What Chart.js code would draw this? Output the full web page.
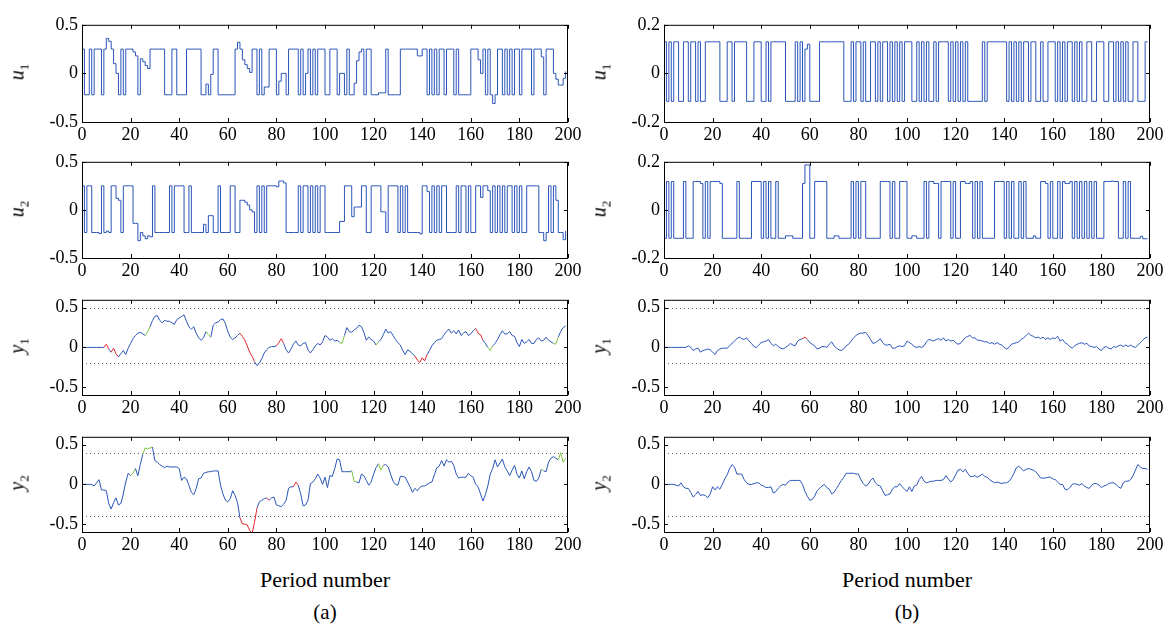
<!DOCTYPE html>
<html>
<head>
<meta charset="utf-8">
<script src="https://cdn.jsdelivr.net/npm/chart.js@4.4.1/dist/chart.umd.min.js"></script>
<style>
  body { margin: 0; background: #fff; width: 1169px; height: 628px; position: relative; overflow: hidden; font-family: "Liberation Serif", "Times New Roman", serif; color: #000; }
  canvas { position: absolute; }
  .ylab { position: absolute; font-style: italic; font-size: 20px; transform: translate(-50%, -50%) rotate(-90deg); white-space: nowrap; }
  .ylab sub { font-style: normal; font-size: 13px; }
  .cap { position: absolute; transform: translateX(-50%); white-space: nowrap; }
</style>
</head>
<body>
<script>
// x axis
const xTicks = [0, 20, 40, 60, 80, 100, 120, 140, 160, 180, 200];

// (a) inputs / outputs
const u1a = [
  .25,-.22,-.22,.25,-.22,.25,.25,.25,-.22,.25,
  .36,.33,.25,.1,0,-.22,.25,-.22,.25,.25,
  .25,.22,.18,-.22,.15,.12,.08,.05,.25,.25,
  .25,.25,.25,.25,-.22,-.22,-.22,.25,.25,-.22,
  -.22,-.22,-.22,.25,.25,.25,.25,.25,.25,-.22,
  -.22,-.11,-.22,-.01,.25,.25,-.22,-.22,-.22,-.22,
  -.22,-.22,-.22,.25,.32,.25,.14,.09,.05,.01,
  .25,.25,-.22,.25,-.22,-.14,-.14,.25,.25,.25,
  -.22,-.08,0,0,-.22,.25,.25,.25,.25,-.22,
  .25,-.22,0,.25,-.22,.25,-.22,.25,.25,.25,
  -.22,-.22,.25,.25,.25,-.22,0,0,-.22,.25,
  -.22,-.22,-.1,.13,.22,.25,-.22,.25,.25,-.22,
  -.22,-.22,-.2,-.2,-.2,.25,-.22,-.22,-.22,-.22,
  -.22,.25,.25,.25,.25,.25,.25,.25,.18,.18,
  .25,.25,-.22,.25,-.22,.25,-.22,.25,.25,-.22,
  .25,.25,.25,-.22,.25,-.22,-.22,-.22,-.22,-.22,
  .25,.25,.25,.14,0,.25,-.22,.25,-.22,-.31,
  -.22,.25,.25,-.22,.25,-.22,.25,-.22,.25,.25,
  -.22,.25,.25,.25,.25,-.22,.25,.25,.25,.17,
  -.22,.25,.25,.25,0,-.06,-.12,-.12,-.05,.02
];
const u2a = [
  .25,-.235,.25,.25,-.235,-.235,-.235,-.245,.25,-.235,
  -.22,-.235,.25,.25,.12,.1,-.235,.25,.25,.25,
  .25,-.14,-.14,-.32,-.235,-.27,-.3,-.27,-.28,.25,
  -.235,-.235,-.235,-.235,-.235,-.235,.25,-.235,.25,.25,
  .25,.25,-.235,-.235,.25,-.235,-.235,-.235,-.235,-.235,
  -.15,-.235,-.06,-.06,-.235,-.235,.25,-.235,-.235,-.235,
  -.235,.25,.25,-.235,-.235,.1,.1,.08,.05,0,
  -.02,-.235,.25,-.235,.25,-.235,.25,.25,.25,.25,
  .24,.3,.3,.28,-.235,-.235,-.235,-.235,-.235,.25,
  -.235,.25,.25,-.235,.25,-.235,.25,-.235,.25,.25,
  -.235,-.235,-.235,-.235,-.235,-.235,-.12,-.12,.25,.25,
  .25,-.07,.03,.03,.03,.25,.25,-.235,-.235,.25,
  .25,.25,.25,-.02,-.02,-.235,.25,.25,.25,.25,
  -.235,.25,-.235,.25,-.235,-.235,-.235,-.235,-.235,-.25,
  .25,.25,.19,-.235,.25,-.235,.25,-.235,.25,.25,
  -.235,-.235,-.235,-.235,.25,-.235,.25,.25,-.235,.25,
  -.235,-.235,.25,.25,.13,.25,.25,.2,-.235,.25,
  -.235,.25,-.235,.25,-.235,.25,.25,-.235,.25,-.235,
  .25,-.235,-.235,.25,.25,.25,.25,.25,-.235,-.235,
  -.32,-.235,.25,-.235,.25,.1,-.235,-.235,-.31,-.22
];
const y1a = [
  0,0,0,0,0,0,0,0,0,0,
  .04,-.02,-.06,-.01,-.08,-.12,-.08,-.04,-.09,-.01,
  .05,.11,.15,.18,.19,.17,.15,.2,.26,.34,
  .39,.4,.34,.31,.34,.33,.33,.31,.29,.35,
  .37,.39,.41,.33,.26,.23,.26,.18,.12,.09,
  .12,.2,.16,.13,.28,.31,.32,.35,.36,.3,
  .2,.13,.1,.12,.15,.18,.14,.09,.02,-.06,
  -.11,-.18,-.23,-.2,-.14,-.07,-.03,0,.01,.01,
  .02,.06,.11,.05,-.03,-.07,-.02,.04,.08,.03,
  .02,.05,.06,-.03,-.07,-.03,.02,.05,.03,.07,
  .15,.13,.09,.11,.08,.09,.06,.05,.15,.25,
  .2,.19,.22,.24,.28,.26,.19,.09,.13,.1,
  .08,.03,.07,.1,.16,.23,.18,.2,.15,.1,
  .06,.03,-.04,-.09,-.03,-.05,-.08,-.11,-.16,-.19,
  -.13,-.17,-.09,-.04,.02,.06,.09,.1,.11,.16,
  .2,.23,.18,.21,.17,.22,.15,.18,.2,.15,
  .17,.21,.24,.18,.16,.09,.05,0,-.04,.02,
  .05,.1,.16,.21,.17,.17,.2,.15,.14,.06,
  .01,.1,.05,.07,.1,.05,.05,.1,.12,.08,
  .09,.13,.09,.07,.05,.04,.13,.2,.25,.27
];
const y2a = [
  0,0,0,0,0,-.02,.02,.06,-.07,-.07,
  -.08,-.24,-.31,-.23,-.17,-.26,-.24,-.12,.03,.14,
  .11,.14,.2,.11,.25,.38,.46,.45,.46,.47,
  .3,.28,.25,.23,.21,.23,.22,.22,.22,.22,
  .2,.05,.09,.07,-.01,-.1,-.13,-.05,.07,.08,
  .14,.15,.16,.16,.17,.17,.17,-.01,-.12,-.2,
  -.22,-.18,-.08,-.14,-.23,-.42,-.5,-.5,-.51,-.58,
  -.62,-.48,-.3,-.22,-.2,-.18,-.17,-.2,-.17,-.16,
  -.26,-.27,-.28,-.25,-.2,-.05,-.03,-.03,.03,-.01,
  -.12,-.27,-.26,-.2,.01,.03,.07,.13,.08,0,
  .09,-.04,.11,.1,.2,.32,.31,.16,.16,.16,
  .16,.17,.04,.03,.02,.13,.11,.05,-.01,.03,
  .13,.21,.26,.18,.24,.25,.22,.13,.04,0,
  -.01,.1,.1,.09,.03,-.03,-.1,-.05,-.08,-.04,
  -.02,-.02,0,.02,.03,.12,.21,.23,.3,.23,
  .31,.28,.29,.24,.13,.08,.09,.09,.09,.14,
  .11,.09,0,-.03,-.12,-.21,-.13,-.02,.13,.2,
  .31,.22,.27,.32,.22,.17,.11,.18,.24,.13,
  .08,.17,.07,.16,.22,.16,.05,.04,.08,.19,
  .17,.16,.28,.33,.35,.33,.31,.4,.28,.33
];
// periods where the (a) outputs are drawn red / green: [from, to)
const y1aRed = [[9, 11], [12, 15], [65, 71], [80, 83], [137, 142], [162, 165]];
const y1aGreen = [[26, 28], [51, 53], [106, 108], [121, 122], [167, 169], [194, 196]];
const y2aRed = [[65, 72], [76, 77], [87, 89]];
const y2aGreen = [[20, 22], [25, 29], [111, 113], [122, 124], [189, 190], [196, 199]];

// (b) inputs / outputs
const u1b = [
  .13,-.115,.13,-.115,.13,.13,-.115,-.115,.13,.13,
  -.115,.13,.13,-.115,.13,-.115,-.115,.13,.13,.13,
  .13,.13,.13,-.115,-.115,-.115,.13,.13,-.115,.13,
  .13,.13,.13,.13,-.115,-.115,-.115,.13,.13,.13,
  -.115,-.115,.13,-.115,.13,.13,.13,.13,.13,.13,
  -.115,-.115,-.115,-.115,.13,-.115,.13,-.115,.1,.12,
  -.115,-.115,-.115,-.115,.13,.13,.13,.13,.13,.13,
  .13,.13,.13,.13,-.115,-.115,-.115,.13,-.115,.13,
  .13,-.115,.13,-.115,-.115,.13,.13,-.115,.13,-.115,
  .13,.13,-.115,.13,-.115,.13,-.115,.13,-.115,.13,
  .13,.13,-.115,-.115,.13,-.115,.13,-.115,.13,-.115,
  -.115,.13,-.115,.13,.13,.13,.13,-.115,.13,-.115,
  .13,-.115,.13,-.115,.13,-.115,-.115,-.115,-.115,-.115,
  -.115,.13,-.115,.13,.13,.13,.13,.13,.13,.13,
  .13,-.115,.13,-.115,.13,-.115,.13,-.115,.13,.13,
  -.115,.13,.13,-.115,-.115,.13,-.115,-.115,.13,.13,
  .13,-.115,.13,-.115,.13,-.115,.13,.13,-.115,.13,
  -.115,.13,-.115,-.115,.13,.13,-.115,-.115,.13,.13,
  .13,-.115,-.115,.13,.13,-.115,.13,-.115,.13,-.115,
  .13,-.115,-.115,.13,.13,-.115,-.115,-.115,.13,.13
];
const u2b = [
  -.118,.118,-.118,.118,-.118,-.118,-.118,-.118,.118,-.118,
  -.118,-.118,.118,.118,.118,.11,-.118,.118,-.118,.118,
  .118,.118,.118,.11,-.118,-.118,-.118,-.118,-.118,-.118,
  .118,-.118,-.118,-.118,-.118,-.118,.118,.118,.118,.118,
  -.118,.118,-.118,.118,-.118,-.118,.118,-.118,-.118,-.118,
  -.108,-.108,-.108,-.118,-.118,-.118,-.118,.11,.187,.187,
  -.118,-.118,.118,.118,.118,.118,.118,-.118,-.118,-.118,
  -.108,-.108,-.118,-.118,-.118,-.118,-.118,.118,-.118,.118,
  -.118,.118,.118,-.118,-.118,-.118,-.118,-.118,-.118,.118,
  .118,.118,.118,-.118,.118,-.118,-.118,.118,.118,.118,
  -.118,-.118,-.108,-.108,-.118,-.118,-.118,.118,-.118,.118,
  .118,.11,.11,-.118,.118,.118,.118,.118,-.118,.118,
  -.118,-.118,.118,.118,.11,.11,.118,-.118,.118,-.118,
  .118,-.118,-.118,-.118,-.118,-.118,.118,.118,.118,.118,
  -.118,.118,-.118,.118,-.118,-.118,.118,-.118,.118,-.118,
  -.118,-.118,-.108,-.118,-.118,.118,.118,.11,-.118,.118,
  -.118,-.118,.118,-.118,.118,.11,.11,.118,-.118,.118,
  -.118,.118,-.118,.118,-.118,.118,-.118,.118,-.118,-.118,
  -.118,.118,.118,.118,.12,.118,.118,-.118,-.118,.118,
  -.118,.118,-.118,-.118,-.118,-.118,-.11,-.12,-.12,-.12
];
const y1b = [
  0,0,0,0,0,0,0,0,0,0,
  .02,0,-.04,-.02,-.01,-.06,-.04,-.03,-.02,-.03,
  -.06,-.09,-.04,-.02,-.01,-.01,-.01,.02,.05,.08,
  .11,.13,.11,.1,.12,.08,.05,.01,0,.03,
  .06,.07,.08,.1,.05,.02,.04,.01,-.01,-.02,
  0,.02,.05,.03,.02,.08,.1,.11,.13,.1,
  .06,.04,.02,-.02,-.01,.01,.01,0,.04,.07,
  .02,-.01,-.03,-.04,-.02,.02,.04,.08,.12,.15,
  .17,.18,.18,.19,.15,.1,.05,.06,.08,.11,
  .06,.03,.03,.04,-.01,-.01,.01,.02,.01,.02,
  .08,.06,.04,.01,0,.01,0,.02,.07,.1,
  .09,.08,.1,.11,.09,.12,.08,.1,.08,.09,
  .06,.04,.05,.09,.12,.14,.15,.12,.12,.09,
  .09,.08,.07,.07,.05,.06,.04,.06,.04,.03,
  0,-.02,0,.04,.05,.06,.07,.1,.12,.15,
  .18,.15,.14,.12,.13,.11,.13,.1,.12,.1,
  .12,.11,.14,.08,.1,.06,.04,.01,-.01,.02,
  .04,.05,.06,.04,.05,.02,.01,0,.01,-.02,
  -.04,0,.01,-.01,-.02,.01,0,.02,.03,.01,
  .03,.01,.03,.01,0,.03,.06,.09,.12,.13
];
const y2b = [
  0,0,0,0,0,-.01,-.02,.02,-.03,-.05,
  -.05,-.1,-.16,-.13,-.09,-.14,-.13,-.14,-.17,-.12,
  -.03,-.07,-.03,-.06,0,.07,.12,.2,.25,.22,
  .13,.13,.13,.06,.02,0,0,.01,.02,.02,
  -.01,-.02,-.04,-.04,-.03,-.11,-.09,-.05,-.02,0,
  -.01,.03,.05,.05,.05,.05,.05,0,-.09,-.15,
  -.2,-.19,-.15,-.08,-.05,-.02,0,-.04,-.06,-.12,
  -.1,-.05,0,.05,.09,.14,.14,.14,.14,.13,
  .13,.06,.01,-.02,0,.05,.08,.02,-.01,-.02,
  -.08,-.14,-.13,-.12,-.06,-.03,-.03,.01,-.03,-.06,
  -.09,-.03,-.09,-.02,-.01,.06,.1,.04,.02,.03,
  .04,.04,.05,.05,.05,.06,.11,.07,.03,.06,
  .12,.18,.19,.16,.19,.14,.1,.1,.11,.09,
  .11,.13,.1,.09,.06,.04,.02,.03,.02,.01,
  .02,.02,.04,.08,.14,.21,.23,.2,.17,.19,
  .2,.19,.18,.16,.12,.08,.08,.08,.09,.09,
  .07,.06,.03,0,0,-.06,-.07,-.04,0,.01,
  0,-.01,.01,-.02,-.04,-.05,-.01,.01,.01,-.01,
  -.04,-.02,-.01,.01,.02,.02,0,-.03,-.05,.02,
  .04,.04,.06,.11,.18,.25,.22,.2,.2,.19
];
const y1bRed = [[57, 59]];

// tick labels / bounds
const uaTicks = [-0.5, 0, 0.5];
const ubTicks = [-0.2, 0, 0.2];
const yTicks = [-0.5, 0, 0.5];
const y1Bounds = [-0.2, 0.5];
const y2Bounds = [-0.4, 0.4];

const BLUE = '#2a55b8', RED = '#e8262c', GREEN = '#7cc242';
const FONT = { family: 'Liberation Serif', size: 18 };
const colLeft = [82, 664];
const plotW = 486;
const rows = [
  { top: 22, h: 100 },
  { top: 159, h: 99 },
  { top: 297, h: 98 },
  { top: 434, h: 98 }
];

const frame = {
  id: 'frame',
  beforeDatasetsDraw(chart, args, opts) {
    if (!opts.bounds) return;
    const { ctx, chartArea: a, scales: { y } } = chart;
    ctx.save();
    ctx.strokeStyle = '#666';
    ctx.lineWidth = 1;
    ctx.setLineDash([1, 3]);
    opts.bounds.forEach(b => {
      const py = Math.round(y.getPixelForValue(b)) + 0.5;
      ctx.beginPath(); ctx.moveTo(a.left, py); ctx.lineTo(a.right, py); ctx.stroke();
    });
    ctx.restore();
  },
  afterDraw(chart) {
    const { ctx, chartArea: a, scales: { x, y } } = chart;
    const t = 4;
    ctx.save();
    ctx.strokeStyle = '#000';
    ctx.lineWidth = 1;
    ctx.beginPath();
    x.ticks.forEach(tk => {
      const px = Math.round(x.getPixelForValue(tk.value)) + 0.5;
      ctx.moveTo(px, a.bottom); ctx.lineTo(px, a.bottom - t);
      ctx.moveTo(px, a.top); ctx.lineTo(px, a.top + t);
    });
    y.ticks.forEach(tk => {
      const py = Math.round(y.getPixelForValue(tk.value)) + 0.5;
      ctx.moveTo(a.left, py); ctx.lineTo(a.left + t, py);
      ctx.moveTo(a.right, py); ctx.lineTo(a.right - t, py);
    });
    ctx.stroke();
    ctx.strokeRect(a.left + 0.5, a.top + 0.5, a.right - a.left - 1, a.bottom - a.top);
    ctx.restore();
  }
};

function segColor(red, green) {
  return c => {
    const i = c.p0DataIndex;
    if (red.some(r => i >= r[0] && i < r[1])) return RED;
    if (green.some(r => i >= r[0] && i < r[1])) return GREEN;
    return BLUE;
  };
}

function addPanel(col, row, values, opt) {
  const left = colLeft[col], r = rows[row];
  const cv = document.createElement('canvas');
  cv.width = plotW + 76;
  cv.height = r.h + 44;
  cv.style.left = (left - 60) + 'px';
  cv.style.top = (r.top - 12) + 'px';
  document.body.appendChild(cv);

  const ds = {
    data: values.map((v, i) => ({ x: i, y: v })),
    borderColor: BLUE,
    borderWidth: 1,
    pointRadius: 0,
    fill: false,
    stepped: !!opt.stepped,
    tension: 0
  };
  if (opt.red) ds.segment = { borderColor: segColor(opt.red, opt.green || []) };

  new Chart(cv, {
    type: 'line',
    data: { datasets: [ds] },
    options: {
      responsive: false,
      animation: false,
      events: [],
      layout: { padding: { left: 0, top: 12, right: 16, bottom: 0 } },
      plugins: { legend: { display: false }, tooltip: { enabled: false }, frame: { bounds: opt.bounds } },
      scales: {
        x: {
          type: 'linear', min: 0, max: 200,
          grid: { display: false, drawTicks: false },
          border: { display: false },
          afterBuildTicks: s => { s.ticks = xTicks.map(v => ({ value: v })); },
          afterFit: s => { s.height = 32; },
          ticks: { font: FONT, color: '#000', padding: 2, maxRotation: 0, autoSkip: false, callback: v => String(v) }
        },
        y: {
          min: opt.min, max: opt.max,
          grid: { display: false, drawTicks: false },
          border: { display: false },
          afterBuildTicks: s => { s.ticks = opt.ticks.map(v => ({ value: v })); },
          afterFit: s => { s.width = 60; },
          ticks: { font: FONT, color: '#000', padding: 4, callback: v => String(v) }
        }
      }
    },
    plugins: [frame]
  });

  const lab = document.createElement('div');
  lab.className = 'ylab';
  lab.innerHTML = opt.label;
  lab.style.left = (left - 63) + 'px';
  lab.style.top = (r.top + r.h / 2) + 'px';
  document.body.appendChild(lab);
}

addPanel(0, 0, u1a, { stepped: true, min: -0.5, max: 0.5, ticks: uaTicks, label: 'u<sub>1</sub>' });
addPanel(0, 1, u2a, { stepped: true, min: -0.5, max: 0.5, ticks: uaTicks, label: 'u<sub>2</sub>' });
addPanel(0, 2, y1a, { min: -0.6, max: 0.6, ticks: yTicks, bounds: y1Bounds, red: y1aRed, green: y1aGreen, label: 'y<sub>1</sub>' });
addPanel(0, 3, y2a, { min: -0.6, max: 0.6, ticks: yTicks, bounds: y2Bounds, red: y2aRed, green: y2aGreen, label: 'y<sub>2</sub>' });
addPanel(1, 0, u1b, { stepped: true, min: -0.2, max: 0.2, ticks: ubTicks, label: 'u<sub>1</sub>' });
addPanel(1, 1, u2b, { stepped: true, min: -0.2, max: 0.2, ticks: ubTicks, label: 'u<sub>2</sub>' });
addPanel(1, 2, y1b, { min: -0.6, max: 0.6, ticks: yTicks, bounds: y1Bounds, red: y1bRed, label: 'y<sub>1</sub>' });
addPanel(1, 3, y2b, { min: -0.6, max: 0.6, ticks: yTicks, bounds: y2Bounds, label: 'y<sub>2</sub>' });

const captions = [['Period number', 567, 22], ['(a)', 600, 21]];
captions.forEach(([t, top, size], k) => {
  colLeft.forEach((l, c) => {
    const d = document.createElement('div');
    d.className = 'cap';
    d.textContent = k === 1 ? (c === 0 ? '(a)' : '(b)') : t;
    d.style.left = (l + plotW / 2) + 'px';
    d.style.top = top + 'px';
    d.style.fontSize = size + 'px';
    document.body.appendChild(d);
  });
});
</script>
</body>
</html>
